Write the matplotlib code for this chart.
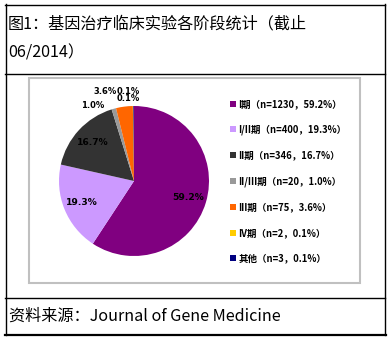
import numpy as np
import matplotlib
matplotlib.use("Agg")
import matplotlib.pyplot as plt
from matplotlib.lines import Line2D
from matplotlib.patches import Rectangle

plt.rcParams['font.family'] = ['Noto Sans CJK SC', 'DejaVu Sans']

stages = ['I期', 'I/II期', 'II期', 'II/III期', 'III期', 'IV期', '其他']
counts = [1230, 400, 346, 20, 75, 2, 3]
shares = [59.2, 19.3, 16.7, 1.0, 3.6, 0.1, 0.1]
colors = ['#800080', '#CC99FF', '#333333', '#999999', '#FF6600', '#FFCC00', '#000080']

W, H = 388, 338
fig = plt.figure(figsize=(W / 100, H / 100), dpi=100)


def fx(x):
    return x / W


def fy(y):
    return 1 - y / H


# table frame around the figure
def hline(y, x0, x1, lw=1.0, c='black'):
    fig.add_artist(Line2D([fx(x0), fx(x1)], [fy(y), fy(y)], color=c, lw=lw,
                          transform=fig.transFigure))


def vline(x, y0, y1, lw=1.0, c='black'):
    fig.add_artist(Line2D([fx(x), fx(x)], [fy(y0), fy(y1)], color=c, lw=lw,
                          transform=fig.transFigure))


hline(4.5, 5, 385)
hline(73.5, 5, 385)
hline(297.5, 5, 385)
hline(334.5, 5, 386, lw=1.6)
vline(5.5, 4, 335)
vline(384.5, 4, 335)

# grey chart box
fig.add_artist(Rectangle((fx(29), fy(283)), fx(331), 205 / H, fill=False,
                         edgecolor='#C0C0C0', lw=1.5, transform=fig.transFigure))

fig.text(fx(8), fy(24), '图1：基因治疗临床实验各阶段统计（截止', fontsize=11.6,
         va='center', ha='left')
fig.text(fx(8), fy(53), '06/2014）', fontsize=11.6, va='center', ha='left')
fig.text(fx(9), fy(316), '资料来源：Journal of Gene Medicine', fontsize=11.6,
         va='center', ha='left')

# pie
ax = fig.add_axes([fx(59), fy(256), 150 / W, 150 / H])
wedges, _ = ax.pie(counts, colors=colors, startangle=90, counterclock=False,
                   radius=1.0, wedgeprops=dict(linewidth=0))
ax.set_xlim(-1, 1)
ax.set_ylim(-1, 1)
ax.set_aspect('equal')

inside = [0, 1, 2]
outside_pos = {3: (-0.55, 1.0), 4: (-0.39, 1.2), 5: (-0.08, 1.2), 6: (-0.08, 1.1)}
for i, w in enumerate(wedges):
    mid = np.deg2rad((w.theta1 + w.theta2) / 2)
    if i in inside:
        x, y = 0.75 * np.cos(mid), 0.75 * np.sin(mid)
        size = 6.6
    else:
        x, y = outside_pos[i]
        size = 6
    ax.text(x, y, f'{shares[i]:.1f}%', ha='center', va='center',
            fontsize=size, fontweight='bold', color='black', family='DejaVu Sans',
            clip_on=False)

# legend
labels = [f'{s}（n={n}，{p:.1f}%）' for s, n, p in zip(stages, counts, shares)]
leg = fig.legend(wedges, labels, loc='upper left', bbox_to_anchor=(fx(230), fy(99)),
                 frameon=False, prop={'weight': 'bold', 'size': 6.8},
                 handlelength=0.6, handleheight=0.6, handletextpad=0.3,
                 labelspacing=1.65, borderaxespad=0, borderpad=0)

fig.savefig('out.png', dpi=100)
